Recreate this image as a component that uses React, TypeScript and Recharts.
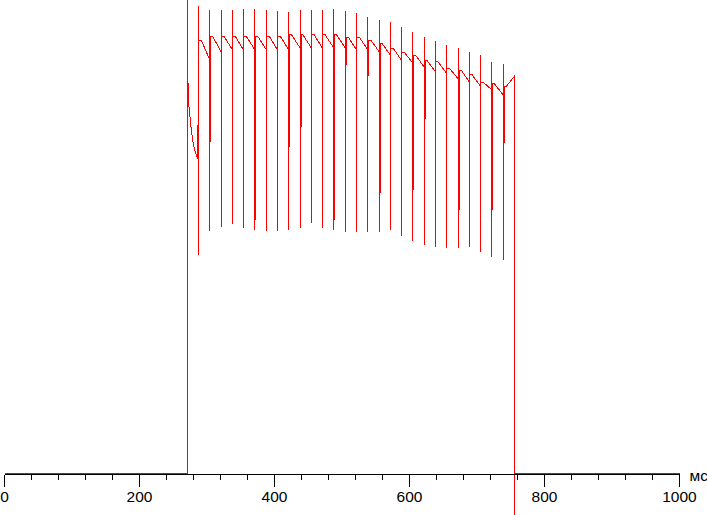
import { LineChart, Line, XAxis, YAxis, ReferenceLine } from 'recharts';

// time axis, ms
const TICKS = [0, 40, 80, 120, 160, 200, 240, 280, 320, 360, 400, 440, 480, 520, 560, 600, 640, 680, 720, 760, 800, 840, 880, 920, 960, 1000];
const TICK_LABELS = [0, 200, 400, 600, 800, 1000];

// switch-on transient (ms, level)
const ONSET_MS = [0, 271.1, 271.1, 271.6, 273.0, 275.0, 277.0, 279.6, 282.5, 286.5];
const ONSET_LEVEL = [0, 0, 110, 91.9, 85.6, 82.6, 79.5, 76.7, 74.7, 73.0];

// 60 Hz pulses
const PULSE_MS = [287.4, 304.3, 321.0, 337.8, 354.1, 371.0, 388.1, 404.4, 421.3, 438.1, 454.8, 471.1, 488.0, 505.2, 521.5, 538.4, 555.6, 571.9, 588.1, 605.0, 621.8, 638.5, 654.8, 672.6, 688.9, 705.2, 722.1, 738.8];
const PULSE_HIGH = [108.6, 107.7, 107.7, 107.7, 108.0, 108.0, 107.7, 107.4, 107.2, 107.7, 107.7, 107.7, 107.9, 107.4, 107.0, 106.0, 105.3, 104.9, 103.7, 102.6, 101.4, 100.5, 99.5, 98.8, 97.9, 97.2, 95.6, 95.1];
const PULSE_LOW = [50.7, 56.3, 57.2, 57.9, 57.0, 56.5, 56.3, 56.3, 56.5, 57.0, 58.1, 57.0, 56.5, 56.0, 56.0, 56.0, 56.0, 56.5, 55.1, 54.0, 53.0, 52.6, 52.3, 52.3, 52.6, 51.4, 50.2, 49.5];
const PULSE_DIP: (number | null)[] = [null, 77.0, 79.5, null, null, 58.8, null, null, 75.8, 80.5, null, null, 58.8, 94.9, null, 92.3, 65.1, null, null, 65.8, 82.3, null, null, 61.2, null, null, 61.2, 76.7];

// ripple between pulses: level right after the pulse and just before the next one
const RIPPLE_TOP = [100.7, 101.6, 101.6, 101.6, 101.6, 101.6, 101.6, 101.6, 101.9, 101.9, 101.9, 101.9, 101.9, 101.4, 101.4, 100.7, 99.8, 98.8, 97.9, 97.2, 96.0, 95.6, 94.2, 93.7, 92.6, 90.9, 90.5, 89.8];
const RIPPLE_END = [96.0, 97.9, 98.4, 98.4, 98.4, 98.4, 98.4, 98.4, 98.8, 98.8, 98.8, 98.8, 98.8, 98.4, 98.4, 97.9, 97.2, 96.0, 95.3, 94.4, 93.3, 93.0, 91.6, 90.9, 90.0, 89.1, 87.9, 92.3];
const HOLD_MS = 4;

const FALL_MS = 755.6;
const FALL_LOW = -10;
const END_MS = 1000;

const FONT = "'Liberation Sans', Arial, sans-serif";

function buildTrace() {
  const pts: { t: number; v: number }[] = [];
  ONSET_MS.forEach((t, i) => pts.push({ t, v: ONSET_LEVEL[i] }));
  PULSE_MS.forEach((t, i) => {
    const next = i + 1 < PULSE_MS.length ? PULSE_MS[i + 1] : FALL_MS;
    pts.push({ t, v: PULSE_HIGH[i] });
    pts.push({ t, v: PULSE_LOW[i] });
    pts.push({ t, v: RIPPLE_TOP[i] });
    const dip = PULSE_DIP[i];
    if (dip != null) {
      pts.push({ t: t + 1.2, v: dip });
      pts.push({ t: t + 1.2, v: RIPPLE_TOP[i] });
    }
    pts.push({ t: t + HOLD_MS, v: RIPPLE_TOP[i] });
    pts.push({ t: next, v: RIPPLE_END[i] });
  });
  pts.push({ t: FALL_MS, v: 0 });
  pts.push({ t: END_MS, v: 0 });
  return pts;
}

function TimeTick({ x, y, payload }: any) {
  const major = TICK_LABELS.includes(payload.value);
  return (
    <g>
      <line x1={x} y1={y} x2={x} y2={y + (major ? 12 : 5.5)} stroke="#000" shapeRendering="crispEdges" />
      {major && (
        <text x={x} y={y + 27.5} textAnchor="middle" fontSize={15.5} fontFamily={FONT} fill="#000">
          {payload.value}
        </text>
      )}
    </g>
  );
}

export default function App() {
  const data = buildTrace();
  return (
    <div style={{ position: 'absolute', left: 0, top: 0, background: '#fff' }}>
      <style>{'.recharts-line-curve,.recharts-cartesian-axis-line,.recharts-reference-line-line{shape-rendering:crispEdges}'}</style>
      <LineChart width={707} height={515} data={data} margin={{ top: 0, right: 27.5, bottom: 39.5, left: 4.5 }}>
        <XAxis
          dataKey="t"
          type="number"
          domain={[0, END_MS]}
          ticks={TICKS}
          interval={0}
          tickLine={false}
          tickSize={0}
          tickMargin={0}
          height={1}
          axisLine={{ stroke: '#000' }}
          tick={<TimeTick />}
          label={{ value: 'мс', position: 'right', offset: 10, fill: '#000', fontSize: 15.5, fontFamily: FONT }}
        />
        <YAxis hide type="number" domain={[-0.2324, 110]} />
        <ReferenceLine
          segment={[{ x: FALL_MS, y: 0 }, { x: FALL_MS, y: FALL_LOW }]}
          stroke="#ff0000"
          ifOverflow="visible"
        />
        <Line
          dataKey="v"
          type="linear"
          stroke="#ff0000"
          strokeWidth={1}
          dot={false}
          activeDot={false}
          isAnimationActive={false}
        />
      </LineChart>
    </div>
  );
}
